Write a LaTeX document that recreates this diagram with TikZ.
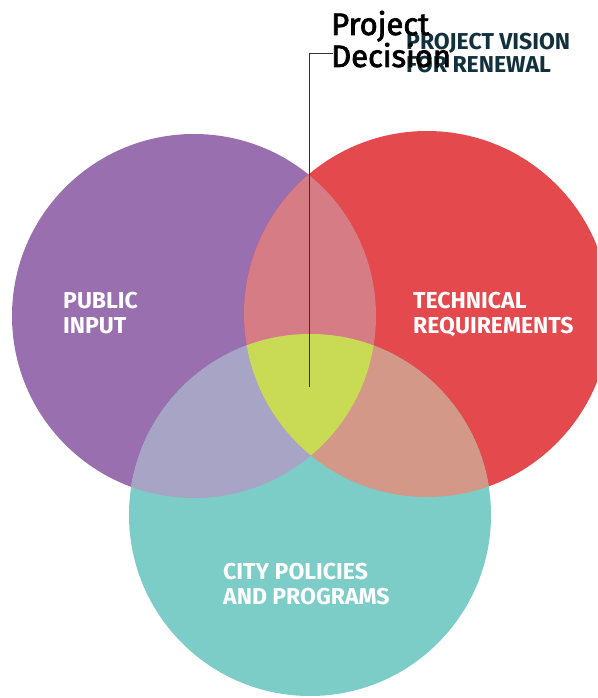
\documentclass[tikz,border=0pt]{standalone}
\usepackage{fontspec}
\setmainfont{Fira Sans}
\newfontfamily\decfont[FakeBold=2.5]{Fira Sans}
\definecolor{cpurple}{HTML}{9A6FAF}
\definecolor{cred}{HTML}{E3494D}
\definecolor{cteal}{HTML}{7CCCC8}
\definecolor{cpr}{HTML}{D67C84}
\definecolor{cpt}{HTML}{A8A4C5}
\definecolor{crt}{HTML}{D49888}
\definecolor{ccenter}{HTML}{C9DB54}
\definecolor{cnavy}{HTML}{13303D}
\definecolor{cline}{HTML}{333333}
\tikzset{
  label/.style={text=white, font=\bfseries\fontsize{23}{25}\selectfont, align=left, inner sep=0pt, anchor=base west},
  title/.style={text=cnavy, font=\bfseries\fontsize{23}{23}\selectfont, align=left, inner sep=0pt, anchor=base west},
  decision/.style={text=black, font=\decfont\fontsize{31}{32}\selectfont, align=left, inner sep=0pt, anchor=base west},
  leader/.style={draw=cline, line width=0.8pt}
}
\begin{document}
\begin{tikzpicture}[x=1pt,y=-1pt]
\useasboundingbox (0,0) rectangle (597,698);
\clip (0,0) rectangle (597,698);
\def\purplec{(194,316) circle[radius=182pt]}
\def\redc{(427,314) circle[radius=183pt]}
\def\tealc{(310,515) circle[radius=181pt]}
\fill[cpurple] \purplec;
\fill[cred] \redc;
\fill[cteal] \tealc;
\begin{scope}\clip \purplec; \fill[cpr] \redc; \end{scope}
\begin{scope}\clip \purplec; \fill[cpt] \tealc; \end{scope}
\begin{scope}\clip \redc; \fill[crt] \tealc; \end{scope}
\begin{scope}\clip \purplec; \clip \redc; \fill[ccenter] \tealc; \end{scope}
\node[label] (public) at (63,333) {PUBLIC\\INPUT};
\node[label] (technical) at (413,333) {TECHNICAL\\REQUIREMENTS};
\node[label] (city) at (223,604) {CITY POLICIES\\AND PROGRAMS};
\node[title] (vision) at (406,73) {PROJECT VISION\\FOR RENEWAL};
\node[decision] (decision) at (331,67) {Project\\Decision};
\coordinate (lineend) at (309,387);
\coordinate (tip) at (333,53);
\draw[leader] (lineend) |- (tip);
\end{tikzpicture}
\end{document}
